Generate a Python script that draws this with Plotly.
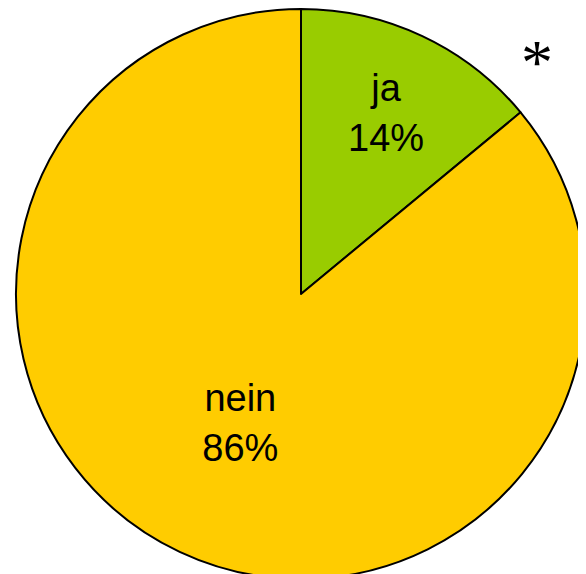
import plotly.graph_objects as go

labels = ["ja", "nein"]
values = [14, 86]
colors = ["#99CC00", "#FFCC00"]

W, H = 586, 574
# the page body adds an 8px offset; the domain compensates for it
fig = go.Figure(go.Pie(
    labels=labels,
    values=values,
    sort=False,
    direction="clockwise",
    rotation=0,
    marker=dict(colors=colors, line=dict(color="black", width=2)),
    texttemplate="%{label}<br>%{percent:.0%}",
    textposition="inside",
    insidetextorientation="horizontal",
    textfont=dict(family="Liberation Sans, Arial, sans-serif", size=38, color="black"),
    hoverinfo="label+percent",
    showlegend=False,
    domain=dict(x=[8 / W, 578 / W], y=[2 / H, 1]),
))

fig.add_annotation(
    text="*", x=529 / W, y=1 - 54 / H, xref="paper", yref="paper",
    showarrow=False, font=dict(family="Liberation Serif, serif", size=64, color="black"),
    xanchor="center", yanchor="middle",
)

fig.update_layout(
    width=W, height=H,
    margin=dict(l=0, r=0, t=0, b=0),
    paper_bgcolor="white",
    plot_bgcolor="white",
)

fig.write_html("out.html")
